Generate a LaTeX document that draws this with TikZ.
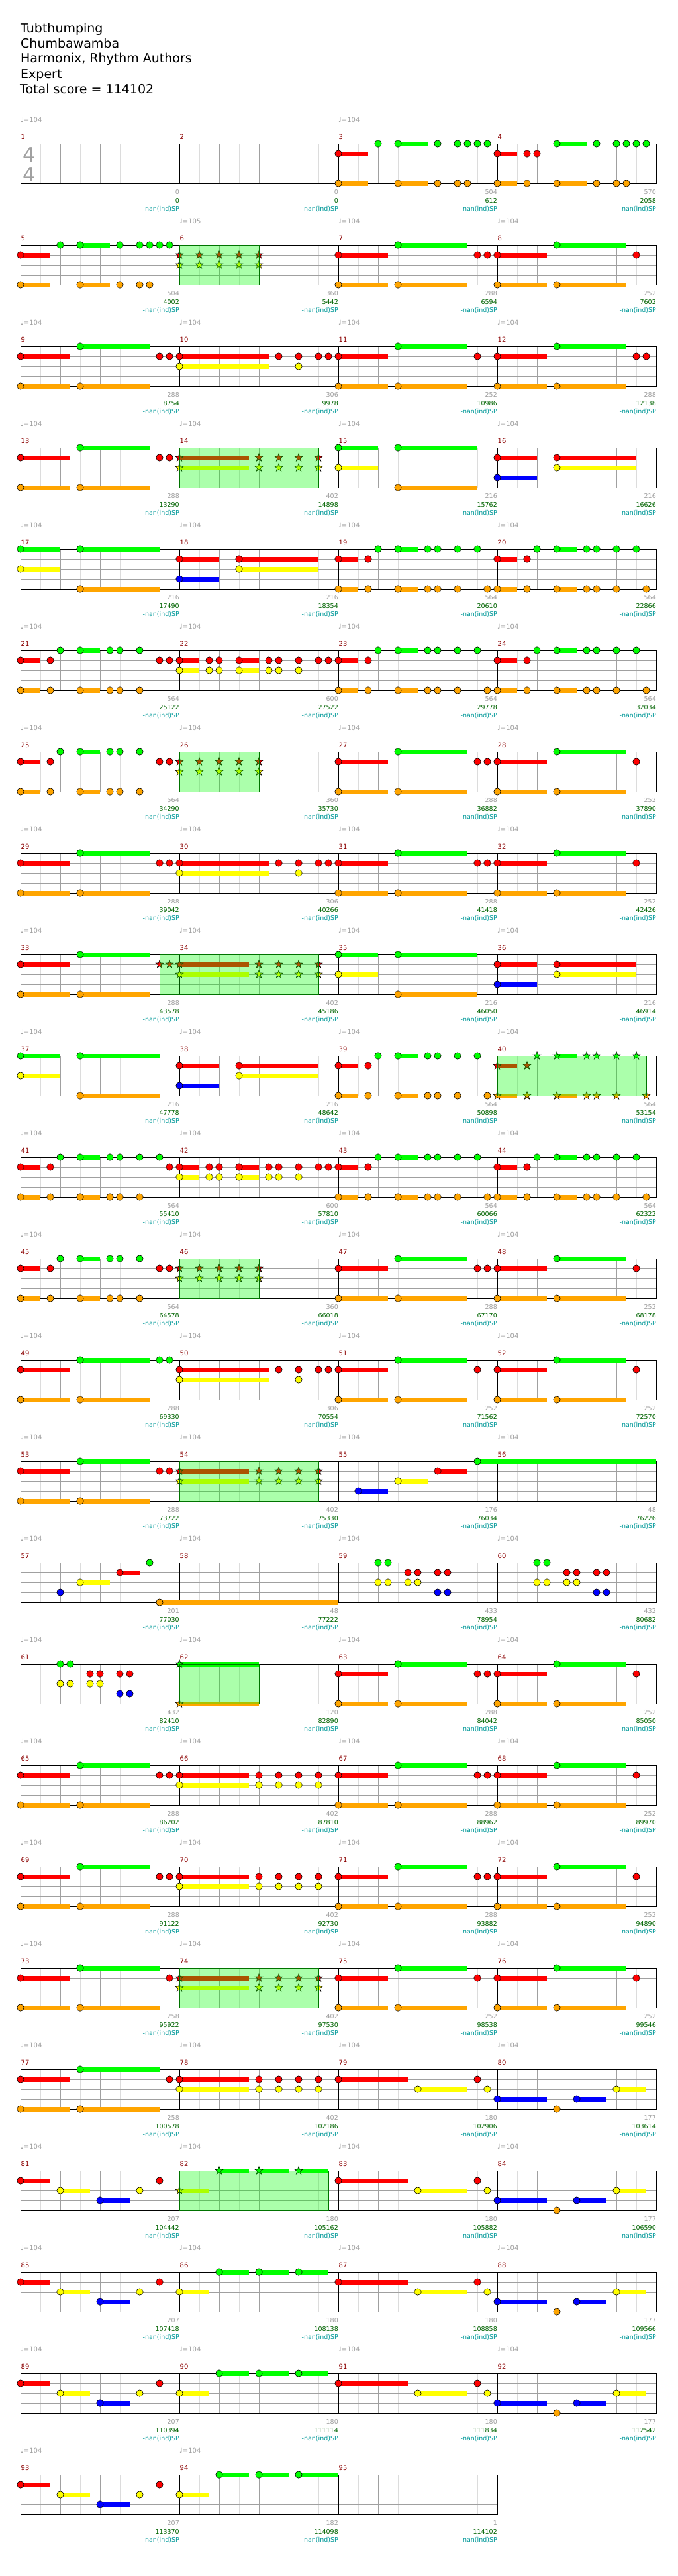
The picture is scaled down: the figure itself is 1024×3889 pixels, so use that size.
\documentclass[tikz,border=0pt]{standalone}
\usepackage{fontspec}
\setmainfont{DejaVu Sans}
\usepackage{tikz}

\definecolor{lane0}{HTML}{00FF00}
\definecolor{lane1}{HTML}{FF0000}
\definecolor{lane2}{HTML}{FFFF00}
\definecolor{lane3}{HTML}{0000FF}
\definecolor{lane4}{HTML}{FFA500}
\definecolor{gridgrey}{HTML}{A0A0A0}
\definecolor{gridlight}{HTML}{DCDCDC}
\definecolor{barred}{HTML}{8B0000}
\definecolor{scoregreen}{HTML}{006400}
\definecolor{spteal}{HTML}{009999}

\newcommand{\setm}[1]{%
  \pgfmathtruncatemacro{\mcol}{mod(#1-1,4)}%
  \pgfmathtruncatemacro{\mrow}{div(#1-1,4)}%
  \pgfmathsetmacro{\mxo}{31+240*\mcol}%
  \pgfmathsetmacro{\myo}{217+153*\mrow}}
\newcommand{\nt}[2]{\draw[gem,fill=lane#1] (\mxo+15*#2,\myo+15*#1) circle[radius=5.2];}
\newcommand{\sn}[2]{\draw[gem,fill=lane#1,shift={(\mxo+15*#2,\myo+15*#1)}]
  (-90:6.3) -- (-54:2.5) -- (-18:6.3) -- (18:2.5) -- (54:6.3) -- (90:2.5)
  -- (126:6.3) -- (162:2.5) -- (198:6.3) -- (234:2.5) -- cycle;}
\newcommand{\hold}[3]{\fill[lane#1] (\mxo+15*#2,\myo+15*#1-3.5) rectangle (\mxo+15*#3,\myo+15*#1+3.5);}
\newcommand{\gems}[2]{\foreach \q in {#2}{\nt{#1}{\q}}}
\newcommand{\stars}[2]{\foreach \q in {#2}{\sn{#1}{\q}}}
\newcommand{\spzone}[3]{\setm{#1}\draw[spfill] (\mxo+15*#2,\myo) rectangle (\mxo+15*#3,\myo+60);}

\newcommand{\intro}{\hold{1}{0}{3}\hold{4}{0}{3}\hold{0}{6}{9}\hold{4}{6}{9}%
  \gems{1}{0}\gems{4}{0,6,10,12,13}\gems{0}{4,6,10,12,13,14,15}}
\newcommand{\chug}[1]{\hold{1}{0}{5}\hold{4}{0}{5}\hold{0}{6}{#1}\hold{4}{6}{#1}%
  \gems{1}{0}\gems{4}{0,6}\gems{0}{6}}
\newcommand{\lift}{\hold{0}{0}{4}\hold{2}{0}{4}\hold{0}{6}{14}\hold{4}{6}{14}%
  \gems{0}{0,6}\gems{2}{0}\gems{4}{6}}
\newcommand{\drop}{\hold{1}{0}{4}\hold{3}{0}{4}\hold{1}{6}{14}\hold{2}{6}{14}%
  \gems{1}{0,6}\gems{3}{0}\gems{2}{6}}
\newcommand{\groove}{\hold{1}{0}{2}\hold{4}{0}{2}\hold{0}{6}{8}\hold{4}{6}{8}%
  \gems{1}{0,3}\gems{4}{0,3,6,9,10,12}\gems{0}{4,6,9,10,12}}
\newcommand{\doubles}{\hold{1}{0}{2}\hold{2}{0}{2}\hold{1}{6}{8}\hold{2}{6}{8}%
  \gems{1}{0,3,4,6,9,10,12,14,15}\gems{2}{0,3,4,6,9,10,12}}
\newcommand{\ride}{\hold{1}{0}{9}\hold{2}{0}{9}\gems{1}{0,10,12,14,15}\gems{2}{0,12}}
\newcommand{\climb}{\hold{1}{0}{7}\hold{2}{0}{7}\gems{1}{0,8,10,12,14}\gems{2}{0,8,10,12,14}}
\newcommand{\chords}{\gems{0}{4,5}\gems{2}{4,5,7,8}\gems{1}{7,8,10,11}\gems{3}{10,11}}
\newcommand{\riffA}{\hold{1}{0}{7}\hold{2}{8}{13}\gems{1}{0,14}\gems{2}{8,15}}
\newcommand{\riffB}{\hold{3}{0}{5}\hold{3}{8}{11}\hold{2}{12}{15}\gems{3}{0,8}\gems{4}{6}\gems{2}{12}}
\newcommand{\riffC}{\hold{1}{0}{3}\hold{2}{4}{7}\hold{3}{8}{11}\gems{1}{0,14}\gems{2}{4,12}\gems{3}{8}}
\newcommand{\riffD}[1]{\hold{2}{0}{3}\hold{0}{4}{7}\hold{0}{8}{11}\hold{0}{12}{#1}\gems{2}{0}\gems{0}{4,8,12}}
\newcommand{\spsix}{\stars{1}{0,2,4,6,8}\stars{2}{0,2,4,6,8}}
\newcommand{\spfour}{\hold{1}{0}{7}\hold{2}{0}{7}\stars{1}{0,8,10,12,14}\stars{2}{0,8,10,12,14}}

\begin{document}
\begin{tikzpicture}[x=1pt, y=-1pt,
    barframe/.style={draw=black, line width=1pt},
    beatline/.style={draw=gridgrey, line width=1pt},
    halfline/.style={draw=gridlight, line width=1pt},
    gem/.style={draw=black, line width=0.6pt},
    spfill/.style={fill=lane0, fill opacity=0.33, draw=green!45!black, line width=1pt},
    songline/.style={anchor=base west, inner sep=0pt, font=\fontsize{19}{23}\selectfont},
    tempo/.style={anchor=base west, inner sep=0pt, text=gridgrey, font=\fontsize{10}{12}\selectfont},
    barno/.style={anchor=base west, inner sep=0pt, text=barred, font=\fontsize{10}{12}\selectfont},
    barpts/.style={anchor=base east, inner sep=0pt, text=gridgrey, font=\fontsize{9.5}{12}\selectfont},
    barscore/.style={anchor=base east, inner sep=0pt, text=scoregreen, font=\fontsize{9.5}{12}\selectfont},
    spmeter/.style={anchor=base east, inner sep=0pt, text=spteal, font=\fontsize{9.5}{12}\selectfont},
    timesig/.style={inner sep=0pt, text=gridgrey, font=\fontsize{30}{30}\selectfont}
]
\fill[white] (0,0) rectangle (1024,3889);

\node[songline] (song) at (31,49) {Tubthumping};
\node[songline] (artist) at (31,72) {Chumbawamba};
\node[songline] (charter) at (31,95) {Harmonix, Rhythm Authors};
\node[songline] (level) at (31,118) {Expert};
\node[songline] (total) at (30,141) {Total score = 114102};

\foreach \n in {1,...,95}{
  \setm{\n}
  \foreach \i in {2,6,10,14} \draw[halfline] (\mxo+15*\i,\myo) -- ++(0,60);
  \foreach \j in {15,30,45} \draw[beatline] (\mxo,\myo+\j) -- ++(240,0);
  \foreach \i in {4,8,12} \draw[beatline] (\mxo+15*\i,\myo) -- ++(0,60);
  \draw[barframe] (\mxo,\myo) rectangle ++(240,60);
}
\node[timesig] (tsup) at (44,234) {4};
\node[timesig] (tsdown) at (44,264) {4};

\setm{3}\intro
\setm{4}\hold{1}{0}{2}\hold{4}{0}{2}\hold{0}{6}{9}\hold{4}{6}{9}\gems{1}{0,3,4}\gems{4}{0,3,6,10,12,13}\gems{0}{6,10,12,13,14,15}
\setm{5}\intro
\setm{6}\spsix
\setm{7}\chug{13}\gems{1}{14,15}
\setm{8}\chug{13}\gems{1}{14}
\setm{9}\chug{13}\gems{1}{14,15}
\setm{10}\ride
\setm{11}\chug{13}\gems{1}{14}
\setm{12}\chug{13}\gems{1}{14,15}
\setm{13}\chug{13}\gems{1}{14,15}
\setm{14}\spfour
\setm{15}\lift
\setm{16}\drop
\setm{17}\lift
\setm{18}\drop
\setm{19}\groove\gems{0}{14}\gems{4}{15}
\setm{20}\groove\gems{0}{14}\gems{4}{15}
\setm{21}\groove\gems{1}{14,15}
\setm{22}\doubles
\setm{23}\groove\gems{0}{14}\gems{4}{15}
\setm{24}\groove\gems{0}{14}\gems{4}{15}
\setm{25}\groove\gems{1}{14,15}
\setm{26}\spsix
\setm{27}\chug{13}\gems{1}{14,15}
\setm{28}\chug{13}\gems{1}{14}
\setm{29}\chug{13}\gems{1}{14,15}
\setm{30}\ride
\setm{31}\chug{13}\gems{1}{14,15}
\setm{32}\chug{13}\gems{1}{14}
\setm{33}\chug{13}\stars{1}{14,15}
\setm{34}\spfour
\setm{35}\lift
\setm{36}\drop
\setm{37}\lift
\setm{38}\drop
\setm{39}\groove\gems{0}{14}\gems{4}{15}
\setm{40}\hold{1}{0}{2}\hold{4}{0}{2}\hold{0}{6}{8}\hold{4}{6}{8}\stars{1}{0,3}\stars{4}{0,3,6,9,10,12,15}\stars{0}{4,6,9,10,12,14}
\setm{41}\groove\gems{0}{14}\gems{1}{15}
\setm{42}\doubles
\setm{43}\groove\gems{0}{14}\gems{4}{15}
\setm{44}\groove\gems{0}{14}\gems{4}{15}
\setm{45}\groove\gems{1}{14,15}
\setm{46}\spsix
\setm{47}\chug{13}\gems{1}{14,15}
\setm{48}\chug{13}\gems{1}{14}
\setm{49}\chug{13}\gems{0}{14,15}
\setm{50}\ride
\setm{51}\chug{13}\gems{1}{14}
\setm{52}\chug{13}\gems{1}{14}
\setm{53}\chug{13}\gems{1}{14,15}
\setm{54}\spfour
\setm{55}\hold{3}{2}{5}\hold{2}{6}{9}\hold{1}{10}{13}\hold{0}{14}{32}\gems{3}{2}\gems{2}{6}\gems{1}{10}\gems{0}{14}
\setm{57}\hold{2}{6}{9}\hold{1}{10}{12}\hold{4}{14}{32}\gems{3}{4}\gems{2}{6}\gems{1}{10}\gems{0}{13}\gems{4}{14}
\setm{59}\chords
\setm{60}\chords
\setm{61}\chords
\setm{62}\hold{0}{0}{8}\hold{4}{0}{8}\stars{0}{0}\stars{4}{0}
\setm{63}\chug{13}\gems{1}{14,15}
\setm{64}\chug{13}\gems{1}{14}
\setm{65}\chug{13}\gems{1}{14,15}
\setm{66}\climb
\setm{67}\chug{13}\gems{1}{14,15}
\setm{68}\chug{13}\gems{1}{14}
\setm{69}\chug{13}\gems{1}{14,15}
\setm{70}\climb
\setm{71}\chug{13}\gems{1}{14,15}
\setm{72}\chug{13}\gems{1}{14}
\setm{73}\chug{14}\gems{1}{15}
\setm{74}\spfour
\setm{75}\chug{13}\gems{1}{14}
\setm{76}\chug{13}\gems{1}{14}
\setm{77}\chug{14}\gems{1}{15}
\setm{78}\climb
\setm{79}\riffA
\setm{80}\riffB
\setm{81}\riffC
\setm{82}\hold{2}{0}{3}\hold{0}{4}{7}\hold{0}{8}{11}\hold{0}{12}{15}\stars{2}{0}\stars{0}{4,8,12}
\setm{83}\riffA
\setm{84}\riffB
\setm{85}\riffC
\setm{86}\riffD{15}
\setm{87}\riffA
\setm{88}\riffB
\setm{89}\riffC
\setm{90}\riffD{15}
\setm{91}\riffA
\setm{92}\riffB
\setm{93}\riffC
\setm{94}\riffD{16}

\spzone{6}{0}{8}
\spzone{14}{0}{14}
\spzone{26}{0}{8}
\spzone{33}{14}{30}
\spzone{40}{0}{15}
\spzone{46}{0}{8}
\spzone{54}{0}{14}
\spzone{62}{0}{8}
\spzone{74}{0}{14}
\spzone{82}{0}{15}

\foreach \n/\bpm in {1/104,3/104,6/105,7/104,8/104}{
  \setm{\n}\node[tempo] (bpm\n) at (\mxo,\myo-33) {♩=\bpm};}
\foreach \n in {9,...,94}{
  \setm{\n}\node[tempo] (bpm\n) at (\mxo,\myo-33) {♩=104};}

\foreach \n/\pts/\sc in {1/0/0, 2/0/0, 3/504/612, 4/570/2058,
    5/504/4002, 6/360/5442, 7/288/6594, 8/252/7602,
    9/288/8754, 10/306/9978, 11/252/10986, 12/288/12138,
    13/288/13290, 14/402/14898, 15/216/15762, 16/216/16626,
    17/216/17490, 18/216/18354, 19/564/20610, 20/564/22866,
    21/564/25122, 22/600/27522, 23/564/29778, 24/564/32034,
    25/564/34290, 26/360/35730, 27/288/36882, 28/252/37890,
    29/288/39042, 30/306/40266, 31/288/41418, 32/252/42426,
    33/288/43578, 34/402/45186, 35/216/46050, 36/216/46914,
    37/216/47778, 38/216/48642, 39/564/50898, 40/564/53154,
    41/564/55410, 42/600/57810, 43/564/60066, 44/564/62322,
    45/564/64578, 46/360/66018, 47/288/67170, 48/252/68178,
    49/288/69330, 50/306/70554, 51/252/71562, 52/252/72570,
    53/288/73722, 54/402/75330, 55/176/76034, 56/48/76226,
    57/201/77030, 58/48/77222, 59/433/78954, 60/432/80682,
    61/432/82410, 62/120/82890, 63/288/84042, 64/252/85050,
    65/288/86202, 66/402/87810, 67/288/88962, 68/252/89970,
    69/288/91122, 70/402/92730, 71/288/93882, 72/252/94890,
    73/258/95922, 74/402/97530, 75/252/98538, 76/252/99546,
    77/258/100578, 78/402/102186, 79/180/102906, 80/177/103614,
    81/207/104442, 82/180/105162, 83/180/105882, 84/177/106590,
    85/207/107418, 86/180/108138, 87/180/108858, 88/177/109566,
    89/207/110394, 90/180/111114, 91/180/111834, 92/177/112542,
    93/207/113370, 94/182/114098, 95/1/114102}{
  \setm{\n}
  \node[barno] (bar\n) at (\mxo+0.5,\myo-7) {\n};
  \node[barpts] (pts\n) at (\mxo+240,\myo+76) {\pts};
  \node[barscore] (score\n) at (\mxo+240,\myo+89) {\sc};
  \node[spmeter] (sp\n) at (\mxo+240,\myo+101) {-nan(ind)SP};
}
\end{tikzpicture}
\end{document}
